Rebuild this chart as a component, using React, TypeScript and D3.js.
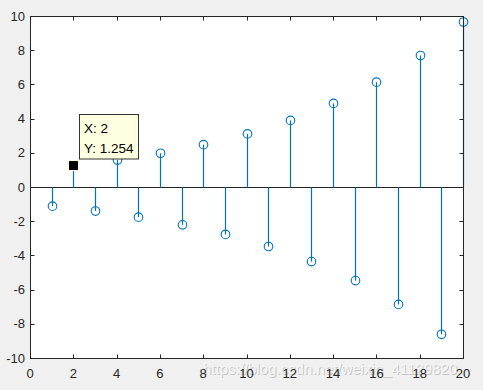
import { useRef, useEffect } from "react";
import * as d3 from "d3";

const xs = [1, 2, 3, 4, 5, 6, 7, 8, 9, 10, 11, 12, 13, 14, 15, 16, 17, 18, 19, 20];
const ys = [
  -1.12, 1.254, -1.405, 1.574, -1.762, 1.974, -2.211, 2.476, -2.773, 3.106,
  -3.479, 3.896, -4.363, 4.887, -5.474, 6.13, -6.866, 7.69, -8.613, 9.646,
];
const xTicks = [0, 2, 4, 6, 8, 10, 12, 14, 16, 18, 20];
const yTicks = [-10, -8, -6, -4, -2, 0, 2, 4, 6, 8, 10];
const tipIndex = 1;
const tipLines = ["X: 2", "Y: 1.254"];
const watermark = "https://blog.csdn.net/weixin_41129820";

const W = 483;
const H = 390;
const M = { left: 30, right: 20, top: 16, bottom: 32 };

export default function App() {
  const ref = useRef<SVGSVGElement | null>(null);

  useEffect(() => {
    if (!ref.current) return;
    const svg = d3.select(ref.current);
    svg.selectAll("*").remove();

    const x = d3.scaleLinear().domain([0, 20]).range([M.left, W - M.right]);
    const y = d3.scaleLinear().domain([-10, 10]).range([H - M.bottom, M.top]);
    const blue = "#0072BD";
    const font = "Liberation Sans, Arial, sans-serif";
    // snap to pixel centre for crisp 1px lines
    const sx = (v: number) => Math.round(x(v)) + 0.5;
    const sy = (v: number) => Math.round(y(v)) + 0.5;

    svg.append("rect").attr("width", W).attr("height", H).attr("fill", "#f0f0f0");
    svg
      .append("rect")
      .attr("x", x(0))
      .attr("y", y(10))
      .attr("width", x(20) - x(0))
      .attr("height", y(-10) - y(10))
      .attr("fill", "white");

    // watermark
    const wm = svg.append("g").style("font-family", font).style("font-size", "15px");
    wm.append("text").attr("x", 204).attr("y", 375).attr("fill", "#c4c4c4").text(watermark);
    wm.append("text").attr("x", 203).attr("y", 374).attr("fill", "#f4f4f4").text(watermark);

    // baseline
    svg
      .append("line")
      .attr("x1", sx(0))
      .attr("x2", sx(20))
      .attr("y1", sy(0))
      .attr("y2", sy(0))
      .attr("stroke", "#262626")
      .attr("stroke-width", 1);

    // stems
    svg
      .append("g")
      .selectAll("line")
      .data(xs)
      .join("line")
      .attr("x1", (d) => sx(d))
      .attr("x2", (d) => sx(d))
      .attr("y1", sy(0))
      .attr("y2", (_, i) => y(ys[i]))
      .attr("stroke", blue)
      .attr("stroke-width", 1.2);

    svg
      .append("g")
      .selectAll("circle")
      .data(xs)
      .join("circle")
      .attr("cx", (d) => sx(d))
      .attr("cy", (_, i) => y(ys[i]))
      .attr("r", 4.3)
      .attr("fill", "none")
      .attr("stroke", blue)
      .attr("stroke-width", 1.1);

    // axes box with inward ticks
    const axisCol = "#262626";
    const gAx = svg.append("g").attr("stroke", axisCol).attr("stroke-width", 1);
    gAx
      .append("rect")
      .attr("x", sx(0))
      .attr("y", sy(10))
      .attr("width", sx(20) - sx(0))
      .attr("height", sy(-10) - sy(10))
      .attr("fill", "none");
    const tl = 4;
    xTicks.forEach((t) => {
      gAx.append("line").attr("x1", sx(t)).attr("x2", sx(t)).attr("y1", sy(-10)).attr("y2", sy(-10) - tl);
      gAx.append("line").attr("x1", sx(t)).attr("x2", sx(t)).attr("y1", sy(10)).attr("y2", sy(10) + tl);
    });
    yTicks.forEach((t) => {
      gAx.append("line").attr("x1", sx(0)).attr("x2", sx(0) + tl).attr("y1", sy(t)).attr("y2", sy(t));
      gAx.append("line").attr("x1", sx(20)).attr("x2", sx(20) - tl).attr("y1", sy(t)).attr("y2", sy(t));
    });

    const labels = svg.append("g").style("font-family", font).style("font-size", "13px").attr("fill", axisCol);
    labels
      .selectAll("text.x")
      .data(xTicks)
      .join("text")
      .attr("class", "x")
      .attr("x", (d) => x(d))
      .attr("y", y(-10) + 20)
      .attr("text-anchor", "middle")
      .text((d) => String(d));
    labels
      .selectAll("text.y")
      .data(yTicks)
      .join("text")
      .attr("class", "y")
      .attr("x", x(0) - 5)
      .attr("y", (d) => y(d) + 4.5)
      .attr("text-anchor", "end")
      .text((d) => String(d));

    // datatip
    const px = sx(xs[tipIndex]);
    const py = y(ys[tipIndex]);
    svg
      .append("rect")
      .attr("x", px - 5)
      .attr("y", py - 5)
      .attr("width", 10)
      .attr("height", 10)
      .attr("fill", "black")
      .attr("stroke", "#ffffe1")
      .attr("stroke-width", 1);
    const tip = svg.append("g");
    tip
      .append("rect")
      .attr("x", 79.5)
      .attr("y", 114.5)
      .attr("width", 59)
      .attr("height", 44.5)
      .attr("fill", "#ffffe1")
      .attr("stroke", "#333333")
      .attr("stroke-width", 1);
    tip
      .selectAll("text")
      .data(tipLines)
      .join("text")
      .attr("x", 84)
      .attr("y", (_, i) => 133 + i * 20)
      .style("font-family", font)
      .style("font-size", "13.5px")
      .attr("fill", "black")
      .text((d) => d);
  }, []);

  return (
    <svg
      ref={ref}
      width={W}
      height={H}
      style={{ position: "absolute", left: 0, top: 0, display: "block" }}
    />
  );
}
